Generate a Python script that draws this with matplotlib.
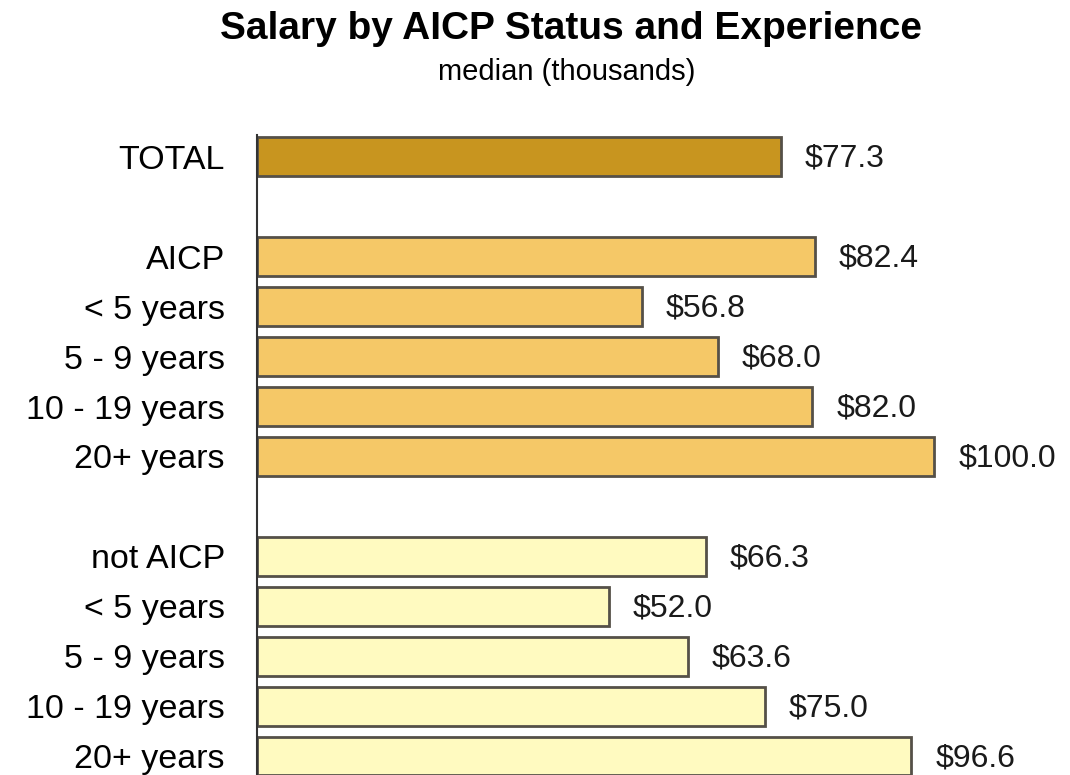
import matplotlib.pyplot as plt

plt.rcParams['font.family'] = ['Liberation Sans', 'DejaVu Sans']

# data
total_label = ['TOTAL']
total_value = [77.3]
aicp_labels = ['AICP', '< 5 years', '5 - 9 years', '10 - 19 years', '20+ years']
aicp_values = [82.4, 56.8, 68.0, 82.0, 100.0]
not_aicp_labels = ['not AICP', '< 5 years', '5 - 9 years', '10 - 19 years', '20+ years']
not_aicp_values = [66.3, 52.0, 63.6, 75.0, 96.6]

groups = [
    (total_label, total_value, '#C8951F'),
    (aicp_labels, aicp_values, '#F5C867'),
    (not_aicp_labels, not_aicp_values, '#FFFAC0'),
]

fig = plt.figure(figsize=(10.7, 7.75), dpi=100)
ax = fig.add_axes([0.240, 0.0, 0.76, 1 - 135 / 775])

pos = 0
ticks, ticklabels = [], []
for labels, values, color in groups:
    ys = list(range(pos, pos + len(labels)))
    ax.barh(ys, values, height=0.78, color=color, edgecolor='#555048', linewidth=2)
    for y, v in zip(ys, values):
        ax.text(v + 3.5, y + 0.04, '${:.1f}'.format(v), va='center', ha='left',
                fontsize=23, color='#1a1a1a')
    ticks += ys
    ticklabels += labels
    pos += len(labels) + 1  # blank row between groups

ax.set_yticks(ticks)
ax.set_yticklabels(ticklabels, fontsize=24.5)
ax.tick_params(axis='y', length=0, pad=23)
ax.set_xticks([])
ax.set_xlim(0, 120)
ax.set_ylim(12.38, -0.44)
for s in ['top', 'right', 'bottom']:
    ax.spines[s].set_visible(False)
ax.spines['left'].set_linewidth(1.5)
ax.spines['left'].set_color('#333333')

fig.text(0.534, 0.963, 'Salary by AICP Status and Experience', ha='center', va='center',
         fontsize=28, fontweight='bold')
fig.text(0.530, 0.907, 'median (thousands)', ha='center', va='center', fontsize=21)

fig.savefig('out.png', dpi=100)
